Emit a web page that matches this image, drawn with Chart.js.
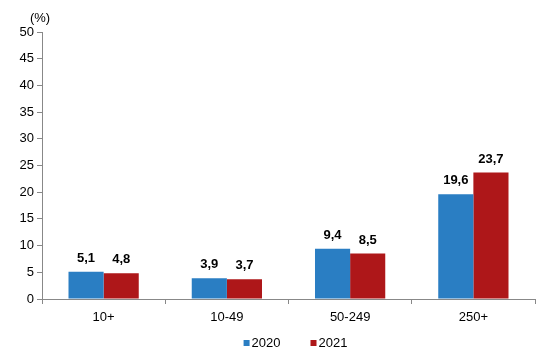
<!DOCTYPE html>
<html>
<head>
<meta charset="utf-8">
<script src="https://cdn.jsdelivr.net/npm/chart.js@4"></script>
<style>
  html, body { margin: 0; padding: 0; background: #fff; }
  #wrap { width: 540px; height: 353px; }
</style>
</head>
<body>
<div id="wrap"><canvas id="myChart" width="540" height="353"></canvas></div>
<script>
// firma büyüklüğü grupları ve yıllara göre oranlar
const categories = ['10+', '10-49', '50-249', '250+'];
const values2020 = [5.1, 3.9, 9.4, 19.6];
const values2021 = [4.8, 3.7, 8.5, 23.7];
const yTicks = [0, 5, 10, 15, 20, 25, 30, 35, 40, 45, 50];

const FONT = '"Liberation Sans", Arial, sans-serif';
const fmt = v => v.toFixed(1).replace('.', ',');

// değer etiketleri, (%) başlığı ve lejant
const extras = {
  id: 'extras',
  afterDatasetsDraw(chart) {
    const ctx = chart.ctx;
    ctx.save();
    ctx.font = 'bold 13px ' + FONT;
    ctx.fillStyle = '#000';
    ctx.textAlign = 'center';
    ctx.textBaseline = 'bottom';
    chart.data.datasets.forEach((ds, i) => {
      chart.getDatasetMeta(i).data.forEach((bar, j) => {
        ctx.fillText(fmt(ds.data[j]), bar.x, bar.y - 7);
      });
    });

    ctx.font = '13px ' + FONT;
    ctx.textBaseline = 'middle';
    ctx.fillText('(%)', chart.scales.y.right - 2, chart.chartArea.top - 14);

    // lejant
    const items = chart.data.datasets;
    const box = 6, gap = 2, space = 30;
    const widths = items.map(d => box + gap + ctx.measureText(d.label).width);
    const total = widths.reduce((a, b) => a + b, 0) + space * (items.length - 1);
    let x = (chart.chartArea.left + chart.chartArea.right) / 2 + 7 - total / 2;
    const y = 343;
    ctx.textAlign = 'left';
    items.forEach((d, i) => {
      ctx.fillStyle = d.backgroundColor;
      ctx.fillRect(x, y - 3, box, box);
      ctx.fillStyle = '#000';
      ctx.fillText(d.label, x + box + gap, y);
      x += widths[i] + space;
    });
    ctx.restore();
  }
};

const ctx = document.getElementById('myChart').getContext('2d');
const chart = new Chart(ctx, {
  type: 'bar',
  data: {
    labels: categories,
    datasets: [
      { label: '2020', data: values2020, backgroundColor: '#2a7ec3', barPercentage: 1, categoryPercentage: 0.57 },
      { label: '2021', data: values2021, backgroundColor: '#ae1719', barPercentage: 1, categoryPercentage: 0.57 }
    ]
  },
  options: {
    responsive: false,
    animation: false,
    layout: { padding: { top: 32, right: 5, left: 0, bottom: 20 } },
    plugins: {
      legend: { display: false },
      tooltip: { enabled: false }
    },
    scales: {
      x: {
        offset: true,
        grid: { display: true, offset: true, drawOnChartArea: false, drawTicks: true, tickLength: 5, color: '#888' },
        border: { color: '#888' },
        ticks: { color: '#000', padding: 6, font: { size: 13, family: FONT } },
        afterFit: s => { s.height = 34; }
      },
      y: {
        min: 0, max: 50,
        afterBuildTicks: s => { s.ticks = yTicks.map(v => ({ value: v })); },
        grid: { display: true, drawOnChartArea: false, drawTicks: true, tickLength: 5, color: '#888' },
        border: { color: '#888' },
        ticks: { color: '#000', padding: 3, font: { size: 13, family: FONT } },
        afterFit: s => { s.width = 42; }
      }
    }
  },
  plugins: [extras]
});
</script>
</body>
</html>
